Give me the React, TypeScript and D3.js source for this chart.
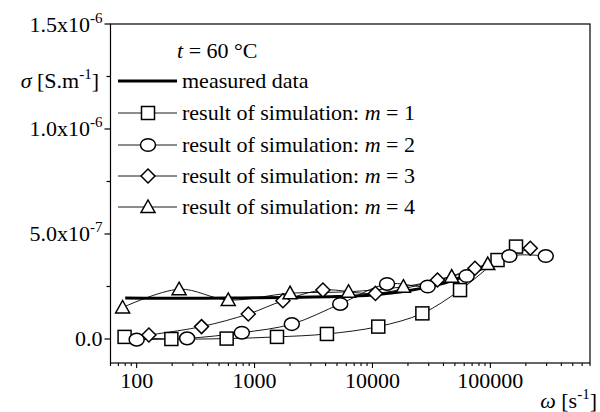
import React, { useEffect, useRef } from 'react';
import * as d3 from 'd3';

// measured conductivity, t = 60 °C
const measuredW = [80, 150, 300, 600, 1000, 2000, 5000, 10000, 20000, 40000, 70000, 100000];
const measuredS = [1.95e-7, 1.94e-7, 1.94e-7, 1.95e-7, 1.96e-7, 1.98e-7, 2.02e-7, 2.1e-7, 2.3e-7, 2.65e-7, 3.15e-7, 3.55e-7];

// simulation m = 1
const m1W = [79, 197, 580, 1550, 4110, 11200, 26500, 55300, 115000, 165000];
const m1S = [1.0e-8, 0.0, 0.2e-8, 1.0e-8, 2.4e-8, 5.9e-8, 1.22e-7, 2.33e-7, 3.76e-7, 4.4e-7];

// simulation m = 2
const m2W = [100, 268, 780, 2070, 5330, 13300, 29400, 63000, 145000, 295000];
const m2S = [-0.3e-8, 0.3e-8, 3.0e-8, 7.1e-8, 1.67e-7, 2.62e-7, 2.5e-7, 3.0e-7, 3.95e-7, 3.95e-7];

// simulation m = 3
const m3W = [127, 355, 885, 1740, 3800, 10600, 35600, 74000, 218000];
const m3S = [1.9e-8, 5.9e-8, 1.19e-7, 1.82e-7, 2.33e-7, 2.17e-7, 2.81e-7, 3.37e-7, 4.32e-7];

// simulation m = 4
const m4W = [76, 229, 598, 2000, 6270, 18300, 47000, 95000];
const m4S = [1.5e-7, 2.37e-7, 1.86e-7, 2.18e-7, 2.25e-7, 2.49e-7, 2.97e-7, 3.57e-7];

const yTicks = [0, 5e-7, 1e-6, 1.5e-6];
const yTickText = [['0.0', ''], ['5.0x10', '-7'], ['1.0x10', '-6'], ['1.5x10', '-6']];
const xTicks = [100, 1000, 10000, 100000];

const legendLabels = ['measured data', 'result of simulation: ', 'result of simulation: ', 'result of simulation: ', 'result of simulation: '];
const legendM = ['', '1', '2', '3', '4'];

const FONT = '"Liberation Serif", "Times New Roman", serif';
const FS = 22;
const SUP = 15;

const App = () => {
  const svgRef = useRef<SVGSVGElement>(null);

  useEffect(() => {
    const svg = d3.select(svgRef.current);
    svg.selectAll('*').remove();

    const left = 110.5, right = 590, top = 24, bottom = 363;
    const x = d3.scaleLog().domain([60, 700000]).range([left, right]);
    const y = d3.scaleLinear().domain([-1.143e-7, 1.5e-6]).range([bottom, top]);

    const g = svg.append('g').attr('font-family', FONT);

    // frame
    g.append('rect')
      .attr('x', left).attr('y', top)
      .attr('width', right - left).attr('height', bottom - top)
      .attr('fill', 'none').attr('stroke', '#000').attr('stroke-width', 1.2);

    // y axis ticks
    const yMinor = d3.range(0, 1.5e-6 + 1e-9, 2.5e-7);
    yMinor.forEach((v, i) => {
      g.append('line')
        .attr('x1', left).attr('x2', left - (i % 2 === 0 ? 6 : 4))
        .attr('y1', y(v)).attr('y2', y(v))
        .attr('stroke', '#000').attr('stroke-width', 1.2);
    });
    yTicks.forEach((v, i) => {
      const t = g.append('text')
        .attr('x', left - 8).attr('y', y(v) + 7.5)
        .attr('text-anchor', 'end').attr('font-size', FS);
      if (yTickText[i][1]) {
        t.append('tspan').text(yTickText[i][0]);
        t.append('tspan').attr('dy', -9).attr('font-size', SUP).text(yTickText[i][1]);
      } else {
        t.text(yTickText[i][0]);
      }
    });

    // x axis ticks
    const xAll: number[] = [];
    for (let e = 1; e <= 5; e++) {
      for (let k = 1; k <= 9; k++) {
        const v = k * Math.pow(10, e);
        if (v >= 60 && v <= 700000) xAll.push(v);
      }
    }
    xAll.forEach((v) => {
      const major = xTicks.includes(v);
      g.append('line')
        .attr('x1', x(v)).attr('x2', x(v))
        .attr('y1', bottom).attr('y2', bottom + (major ? 5 : 3))
        .attr('stroke', '#000').attr('stroke-width', 1.1);
    });
    xTicks.forEach((v) => {
      g.append('text')
        .attr('x', x(v)).attr('y', bottom + 25)
        .attr('text-anchor', 'middle').attr('font-size', FS)
        .text(String(v));
    });

    // axis titles
    const yt = g.append('text').attr('x', 99).attr('y', 88).attr('text-anchor', 'end').attr('font-size', FS);
    yt.append('tspan').attr('font-style', 'italic').text('σ');
    yt.append('tspan').text(' [S.m');
    yt.append('tspan').attr('dy', -9).attr('font-size', SUP).text('-1');
    yt.append('tspan').attr('dy', 9).text(']');

    const xt = g.append('text').attr('x', 597).attr('y', 408).attr('text-anchor', 'end').attr('font-size', FS);
    xt.append('tspan').attr('font-style', 'italic').text('ω');
    xt.append('tspan').text(' [s');
    xt.append('tspan').attr('dy', -9).attr('font-size', SUP).text('-1');
    xt.append('tspan').attr('dy', 9).text(']');

    const plot = g.append('g');

    // simulation curves
    const line = d3.line<[number, number]>()
      .x((d) => x(d[0])).y((d) => y(d[1]))
      .curve(d3.curveCatmullRom.alpha(0.5));
    const series = [
      { w: m1W, s: m1S, shape: 'square' },
      { w: m2W, s: m2S, shape: 'circle' },
      { w: m3W, s: m3S, shape: 'diamond' },
      { w: m4W, s: m4S, shape: 'triangle' },
    ];
    series.forEach((sr) => {
      const pts = sr.w.map((w, i) => [w, sr.s[i]] as [number, number]);
      plot.append('path').attr('d', line(pts))
        .attr('fill', 'none').attr('stroke', '#000').attr('stroke-width', 0.9);
    });

    // measured data
    const mPts = measuredW.map((w, i) => [w, measuredS[i]] as [number, number]);
    plot.append('path').attr('d', line(mPts))
      .attr('fill', 'none').attr('stroke', '#000').attr('stroke-width', 3);

    const drawMarker = (sel: any, shape: string, cx: number, cy: number) => {
      const st = { fill: '#fff', stroke: '#000', sw: 1.5 };
      if (shape === 'square') {
        sel.append('rect').attr('x', cx - 6.5).attr('y', cy - 6.5).attr('width', 13).attr('height', 13)
          .attr('fill', st.fill).attr('stroke', st.stroke).attr('stroke-width', st.sw);
      } else if (shape === 'circle') {
        sel.append('ellipse').attr('cx', cx).attr('cy', cy).attr('rx', 7.5).attr('ry', 6.3)
          .attr('fill', st.fill).attr('stroke', st.stroke).attr('stroke-width', st.sw);
      } else if (shape === 'diamond') {
        sel.append('path').attr('d', `M${cx},${cy - 7}L${cx + 7},${cy}L${cx},${cy + 7}L${cx - 7},${cy}Z`)
          .attr('fill', st.fill).attr('stroke', st.stroke).attr('stroke-width', st.sw);
      } else {
        sel.append('path').attr('d', `M${cx},${cy - 7}L${cx + 7},${cy + 5.5}L${cx - 7},${cy + 5.5}Z`)
          .attr('fill', st.fill).attr('stroke', st.stroke).attr('stroke-width', st.sw);
      }
    };

    series.forEach((sr) => {
      sr.w.forEach((w, i) => drawMarker(plot, sr.shape, x(w), y(sr.s[i])));
    });

    // legend
    const lg = g.append('g');
    const tl = lg.append('text').attr('x', 177).attr('y', 58).attr('font-size', FS);
    tl.append('tspan').attr('font-style', 'italic').text('t');
    tl.append('tspan').text(' = 60 °C');
    const rowsY = [81, 113, 145, 176, 207];
    const shapes = ['', 'square', 'circle', 'diamond', 'triangle'];
    rowsY.forEach((ry, i) => {
      lg.append('line').attr('x1', 118).attr('x2', 177).attr('y1', ry).attr('y2', ry)
        .attr('stroke', '#000').attr('stroke-width', i === 0 ? 3 : 0.9);
      if (shapes[i]) drawMarker(lg, shapes[i], 148, ry);
      const t = lg.append('text').attr('x', 182).attr('y', ry + 7).attr('font-size', FS);
      t.append('tspan').text(legendLabels[i]);
      if (legendM[i]) {
        t.append('tspan').attr('font-style', 'italic').text('m');
        t.append('tspan').text(' = ' + legendM[i]);
      }
    });
  }, []);

  return (
    <svg
      ref={svgRef}
      width={600}
      height={412}
      style={{ position: 'absolute', left: 0, top: 0, background: '#fff' }}
    />
  );
};

export default App;
